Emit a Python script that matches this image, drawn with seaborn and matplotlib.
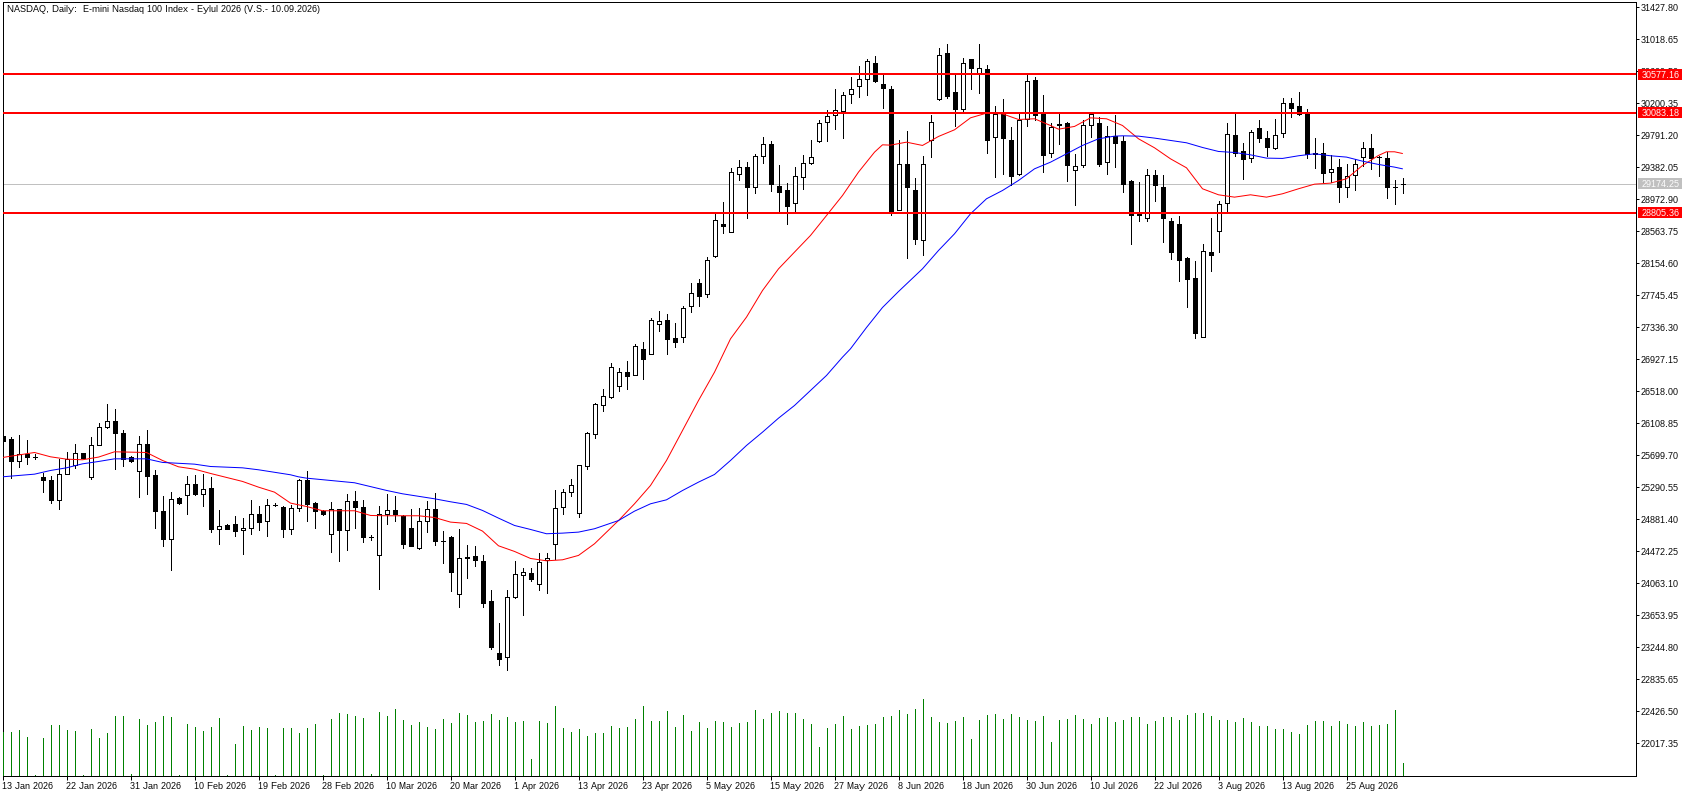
import matplotlib
matplotlib.use("Agg")
import matplotlib.pyplot as plt
from matplotlib.patches import Rectangle
import numpy as np
import pandas as pd
import seaborn as sns

# daily OHLC
highs = [25955,
    25934, 25956, 25892, 25713, 25474, 25432, 25649, 25743, 25841, 25734,
    25934, 26113, 26352, 26288, 26028, 25696, 25943, 26028, 25508, 25176,
    25227, 25167, 25432, 25449, 25457, 25419, 24997, 24826, 24920, 24895,
    25125, 25048, 25137, 25086, 25056, 25069, 25393, 25496, 25099, 24997,
    25099, 25018, 25210, 25240, 25133, 24677, 25048, 25210, 25176, 24937,
    25018, 25031, 25112, 25214, 24728, 24665, 24754, 24549, 24537, 24422,
    23974, 23552, 23974, 24345, 24255, 24255, 24447, 24447, 25253, 25265,
    25393, 25581, 25998, 26369, 26556, 26876, 26821, 26902, 27127, 27157,
    27460, 27541, 27515, 27400, 27613, 27907, 27959, 28244, 28811, 28947,
    29378, 29480, 29455, 29557, 29778, 29727, 29416, 29190, 29391, 29544,
    29736, 29992, 30120, 30380, 30341, 30533, 30686, 30767, 30802, 30593,
    30418, 29740, 29843, 29254, 29531, 30051, 30912, 30963, 30559, 30785,
    30763, 30963, 30695, 30162, 30260, 29894, 30068, 30593, 30542, 30311,
    29953, 30068, 29966, 29557, 29992, 30068, 30030, 29915, 30056, 29787,
    29216, 29191, 29357, 29344, 29280, 28730, 28756, 28232, 28181, 28398,
    28730, 28956, 29954, 30086, 29689, 29864, 29983, 29851, 30000, 30277,
    30277, 30341, 30124, 29753, 29689, 29536, 29485, 29421, 29485, 29702,
    29804, 29532, 29574, 29216, 29254]
lows = [25891,
    25410, 25551, 25593, 25657, 25231, 25091, 25014, 25466, 25538, 25662,
    25397, 25836, 26050, 25525, 25559, 25615, 25167, 25201, 24771, 24541,
    24234, 25074, 24950, 25189, 25052, 24720, 24566, 24758, 24669, 24438,
    24694, 24741, 24669, 25048, 24656, 24694, 24993, 24860, 24771, 24937,
    24464, 24349, 24490, 24771, 24592, 24622, 23991, 24822, 24860, 24515,
    24541, 24503, 24720, 24554, 24324, 23966, 23761, 24132, 24285, 23761,
    23224, 23019, 22955, 23880, 23659, 24093, 23978, 23940, 24370, 24950,
    25180, 24912, 25529, 25926, 26267, 26433, 26522, 26548, 26727, 26676,
    26998, 27289, 26995, 27085, 27149, 27532, 27609, 27724, 28236, 28542,
    28560, 29216, 28734, 29054, 29437, 29079, 28811, 28658, 28811, 29105,
    29429, 29706, 29727, 29868, 29757, 30205, 30282, 30307, 30473, 30141,
    28769, 28833, 28223, 28402, 28261, 29514, 30247, 30269, 29907, 30098,
    30380, 30333, 29566, 29259, 29297, 29161, 29284, 29919, 29987, 29323,
    29514, 29681, 29208, 28901, 29391, 29770, 29399, 29297, 29387, 29067,
    28398, 28696, 28696, 28948, 28424, 28206, 27925, 27592, 27196, 27217,
    28065, 28296, 28820, 29523, 29229, 29446, 29702, 29523, 29617, 29766,
    30022, 30056, 29498, 29370, 29191, 29199, 28939, 29003, 29088, 29395,
    29365, 29267, 28986, 28914, 29062]
opens = [25955,
    25905, 25628, 25713, 25683, 25419, 25380, 25133, 25466, 25572, 25734,
    25423, 25836, 26067, 26143, 25990, 25679, 25504, 25849, 25444, 24993,
    24635, 25150, 25197, 25338, 25206, 25278, 24762, 24805, 24818, 24745,
    24775, 24954, 24865, 25069, 25035, 24762, 25031, 25380, 25086, 24988,
    24699, 25018, 24750, 25121, 25044, 24652, 24430, 24954, 24997, 24925,
    24775, 24515, 24865, 25018, 24609, 24652, 23931, 24400, 24417, 24353,
    23842, 23177, 23126, 23893, 24174, 24200, 24059, 24358, 24571, 25044,
    25236, 24967, 25563, 25977, 26348, 26445, 26590, 26761, 26731, 27064,
    26998, 27383, 27434, 27204, 27217, 27613, 27907, 27762, 28248, 28662,
    28560, 29301, 29391, 29131, 29531, 29685, 29148, 29097, 28926, 29263,
    29442, 29719, 29966, 30051, 30103, 30324, 30422, 30516, 30721, 30452,
    30388, 28841, 29429, 29088, 28457, 29736, 30260, 30848, 30341, 30128,
    30763, 30576, 30644, 29770, 30068, 29736, 29297, 29996, 30503, 30081,
    29570, 29941, 29953, 29352, 29416, 29928, 29953, 29455, 29787, 29727,
    29203, 28799, 28735, 29289, 29127, 28692, 28662, 28219, 27972, 27217,
    28304, 28573, 28931, 29800, 29587, 29506, 29890, 29762, 29630, 29826,
    30209, 30171, 30077, 29570, 29570, 29323, 29391, 29131, 29284, 29515,
    29634, 29515, 29506, 29135, 29174]
closes = [25891,
    25623, 25713, 25679, 25683, 25385, 25125, 25466, 25653, 25734, 25662,
    25836, 26067, 26143, 25986, 25657, 25628, 25849, 25436, 24988, 24630,
    25146, 25091, 25338, 25201, 25274, 24758, 24801, 24758, 24733, 24775,
    24954, 24848, 25069, 25069, 24758, 25031, 25380, 25082, 24988, 24954,
    25014, 24745, 25121, 25040, 24656, 24652, 24954, 25005, 24946, 24567,
    24541, 24865, 25018, 24605, 24609, 24209, 24392, 24392, 24366, 23812,
    23250, 23096, 23893, 24187, 24213, 24119, 24341, 24392, 25031, 25236,
    25325, 25581, 25989, 26360, 26463, 26833, 26769, 26714, 27102, 26931,
    27434, 27422, 27187, 27149, 27588, 27780, 27737, 28201, 28713, 28632,
    29327, 29391, 29131, 29531, 29685, 29169, 29067, 28888, 29276, 29442,
    29518, 29949, 30043, 30120, 30311, 30384, 30516, 30746, 30486, 30397,
    28811, 29429, 29131, 28462, 29429, 29966, 30823, 30294, 30128, 30721,
    30652, 30657, 29732, 30068, 29757, 29271, 29992, 30490, 30056, 29540,
    29902, 29924, 29412, 29404, 29928, 30068, 29425, 29787, 29693, 29169,
    28777, 28773, 29289, 29157, 28735, 28296, 28198, 27955, 27264, 28317,
    28262, 28918, 29813, 29570, 29489, 29839, 29762, 29642, 29800, 30209,
    30141, 30069, 29549, 29557, 29310, 29365, 29131, 29272, 29429, 29634,
    29498, 29515, 29131, 29135, 29174]
volumes = [130, 132, 138, 117, 3, 114, 153, 153, 138, 135,
    3, 141, 114, 129, 180, 180, 6, 171, 153, 162,
    180, 177, 3, 156, 147, 135, 147, 174, 3, 96,
    150, 138, 147, 144, 3, 144, 144, 129, 144, 156,
    3, 171, 189, 186, 180, 174, 6, 192, 180, 201,
    168, 153, 162, 147, 141, 171, 159, 189, 183, 162,
    165, 186, 168, 177, 162, 165, 51, 165, 159, 210,
    144, 132, 141, 120, 129, 129, 150, 144, 147, 171,
    210, 165, 165, 195, 147, 183, 135, 162,
    144, 165, 162, 147, 159, 162, 198, 171, 189, 195, 189, 189, 171, 156, 87, 144,
    156, 180, 141, 150, 153, 156, 177, 180, 198, 186, 201, 231, 177, 162, 159, 165,
    177, 111, 168, 183, 186, 171, 186, 177, 168, 165, 180, 102, 168, 171, 183, 171,
    156, 174, 177, 162, 168,
    177, 177, 156, 165, 177, 177, 168, 183, 189, 189, 180, 168, 168, 162, 174, 162,
    150, 150, 141, 141, 132, 126, 153, 165, 165, 150, 165, 156, 150, 162, 150, 153,
    156, 198, 39]

# moving averages, read at every other bar or so
red_bars = [0, 4, 6, 8, 10, 12, 14, 18, 20, 22, 24, 26, 28, 30, 32, 34, 36, 37, 38, 40, 44, 46, 48, 50,
    52, 54, 56, 58, 60, 62, 64, 66, 68, 70, 72, 74, 77, 79, 81, 83, 85, 87, 89, 91, 93, 95, 97, 99,
    101, 103, 105, 107, 109, 110, 111, 113, 115, 117, 119, 121, 123, 125, 127, 129, 131, 132, 134,
    136, 138, 140, 142, 144, 146, 148, 150, 152, 154, 156, 158, 160, 162, 164, 166, 168, 170, 172,
    173, 174, 175]
red_ma = [25674, 25738, 25683, 25653, 25645, 25679, 25747, 25738, 25636, 25555, 25525, 25470, 25419,
    25368, 25295, 25231, 25091, 25069, 25048, 24993, 24993, 24933, 24929, 24929, 24929, 24907, 24848,
    24831, 24733, 24545, 24473, 24383, 24353, 24366, 24422, 24571, 24868, 25082, 25316, 25636, 26019,
    26403, 26765, 27191, 27469, 27809, 28086, 28300, 28513, 28768, 29024, 29323, 29578, 29672, 29668,
    29706, 29664, 29779, 29864, 30017, 30077, 30068, 29996, 30005, 29919, 29872, 29907, 30017, 30005,
    29919, 29749, 29634, 29493, 29378, 29110, 29033, 29003, 29033, 29003, 29046, 29110, 29169, 29182,
    29238, 29408, 29536, 29583, 29583, 29561]
blue_bars = [0, 4, 6, 8, 10, 12, 14, 18, 20, 24, 26, 30, 32, 36, 37, 38, 44, 48, 50, 54, 56, 58, 60,
    62, 64, 66, 68, 70, 72, 74, 77, 79, 81, 83, 85, 87, 89, 91, 93, 95, 97, 99, 101, 103, 105, 106,
    108, 110, 112, 115, 117, 119, 121, 123, 125, 127, 129, 131, 133, 135, 137, 139, 140, 142, 144,
    146, 148, 150, 152, 154, 156, 158, 160, 162, 164, 166, 168, 170, 172, 174, 175]
blue_ma = [25427, 25461, 25508, 25542, 25593, 25623, 25657, 25657, 25611, 25589, 25559, 25542, 25517,
    25453, 25427, 25410, 25351, 25253, 25210, 25146, 25108, 25074, 24997, 24899, 24805, 24754, 24699,
    24707, 24720, 24763, 24868, 24988, 25082, 25133, 25252, 25359, 25457, 25636, 25828, 25998, 26177,
    26339, 26531, 26723, 26957, 27064, 27336, 27592, 27796, 28087, 28321, 28534, 28790, 28982, 29088,
    29216, 29365, 29450, 29557, 29664, 29749, 29783, 29787, 29783, 29758, 29728, 29698, 29638, 29587,
    29574, 29544, 29502, 29498, 29532, 29557, 29532, 29515, 29463, 29421, 29387, 29365]

level_prices = [30577.16, 30083.18, 28805.36]
last_price = 29174.25
price_ticks = [31427.80, 31018.65, 30609.50, 30200.35, 29791.20, 29382.05, 28972.90, 28563.75,
    28154.60, 27745.45, 27336.30, 26927.15, 26518.00, 26108.85, 25699.70, 25290.55, 24881.40,
    24472.25, 24063.10, 23653.95, 23244.80, 22835.65, 22426.50, 22017.35]
date_labels = ["13 Jan 2026", "22 Jan 2026", "31 Jan 2026", "10 Feb 2026", "19 Feb 2026", "28 Feb 2026",
    "10 Mar 2026", "20 Mar 2026", "1 Apr 2026", "13 Apr 2026", "23 Apr 2026", "5 May 2026",
    "15 May 2026", "27 May 2026", "8 Jun 2026", "18 Jun 2026", "30 Jun 2026", "10 Jul 2026",
    "22 Jul 2026", "3 Aug 2026", "13 Aug 2026", "25 Aug 2026"]
TITLE = "NASDAQ, Daily:  E-mini Nasdaq 100 Index - Eylul 2026 (V.S.- 10.09.2026)"

sns.set_style("white")
plt.rcParams['font.family'] = ['Liberation Sans', 'DejaVu Sans']
plt.rcParams['text.antialiased'] = True
plt.rcParams['text.hinting'] = 'native'
plt.rcParams['text.hinting_factor'] = 1

W, H = 1693, 796
PX = 0.72  # one pixel in points at dpi 100
FS = 6.5
fig = plt.figure(figsize=(W / 100, H / 100), dpi=100)
ax = fig.add_axes([2.5 / W, 1 - 775.5 / H, 1633 / W, 774 / H])

bars = np.arange(len(closes))
df = pd.DataFrame({"open": opens, "high": highs, "low": lows, "close": closes, "vol": volumes}, index=bars)
up = df["close"] >= df["open"]

ax.axhline(last_price, color="#c0c0c0", lw=PX, zorder=1, antialiased=False)
ax.vlines(bars, df["low"], df["high"], color="black", lw=PX, zorder=2, antialiased=False)
body_bottom = df[["open", "close"]].min(axis=1)
body_height = (df["close"] - df["open"]).abs()
ax.bar(bars, body_height, bottom=body_bottom, width=0.5,
       color=np.where(up, "white", "black").tolist(), edgecolor="black", linewidth=PX,
       zorder=3, antialiased=False)

sns.lineplot(x=red_bars, y=red_ma, ax=ax, color="#ff0000", zorder=4, estimator=None, legend=False)
sns.lineplot(x=blue_bars, y=blue_ma, ax=ax, color="#0000ff", zorder=4, estimator=None, legend=False)
# the averages are hairlines in the terminal
for line in ax.get_lines():
    if line.get_linewidth() != PX:
        line.set_linewidth(0.72)

for level in level_prices:
    ax.axhline(level, color="#ff0000", lw=2 * PX, zorder=5, antialiased=False)

ax.set_xlim(0, 1633 / 8)
ax.set_ylim(21608, 31504.5)

# volume sits on the same frame, on its own scale
ax_vol = ax.twinx()
ax_vol.vlines(bars, 0, df["vol"], color="#008000", lw=PX, antialiased=False)
ax_vol.set_ylim(0, 774 * 3)
ax_vol.set_yticks([])
ax_vol.grid(False)
ax_vol.set_ylabel("")
for s in ax_vol.spines.values():
    s.set_visible(False)

ax.yaxis.tick_right()
ax.set_yticks(price_ticks)
ax.set_yticklabels(["%.2f" % p for p in price_ticks])
ax.set_xticks(bars[::8][:len(date_labels)])
ax.set_xticklabels(date_labels, ha="left")
ax.tick_params(axis="y", right=True, length=3 * PX, width=PX, pad=2 * PX, colors="black", labelsize=FS)
ax.tick_params(axis="x", bottom=True, length=4 * PX, width=PX, pad=1.5, colors="black", labelsize=FS)
ax.grid(False)
for s in ax.spines.values():
    s.set_visible(True)
    s.set_color("black")
    s.set_linewidth(PX)

# price tags on the right axis
tag_w = 44 / 1633
tag_h = 11 * 12.786
tags = [(p, "#ff0000") for p in level_prices] + [(last_price, "#c0c0c0")]
for price, colour in tags:
    ax.add_patch(Rectangle((1 + 3 / 1633, price - tag_h / 2), tag_w, tag_h, transform=ax.get_yaxis_transform(),
                           facecolor=colour, edgecolor="none", clip_on=False, zorder=6))
    ax.text(1 + 6 / 1633, price, "%.2f" % price, transform=ax.get_yaxis_transform(), color="white",
            va="center_baseline", ha="left", fontsize=FS, clip_on=False, zorder=7)

fig.text(7 / W, 1 - 10 / H, TITLE, ha="left", va="center", color="black", fontsize=FS)

fig.savefig("out.png", dpi=100, facecolor="white")
